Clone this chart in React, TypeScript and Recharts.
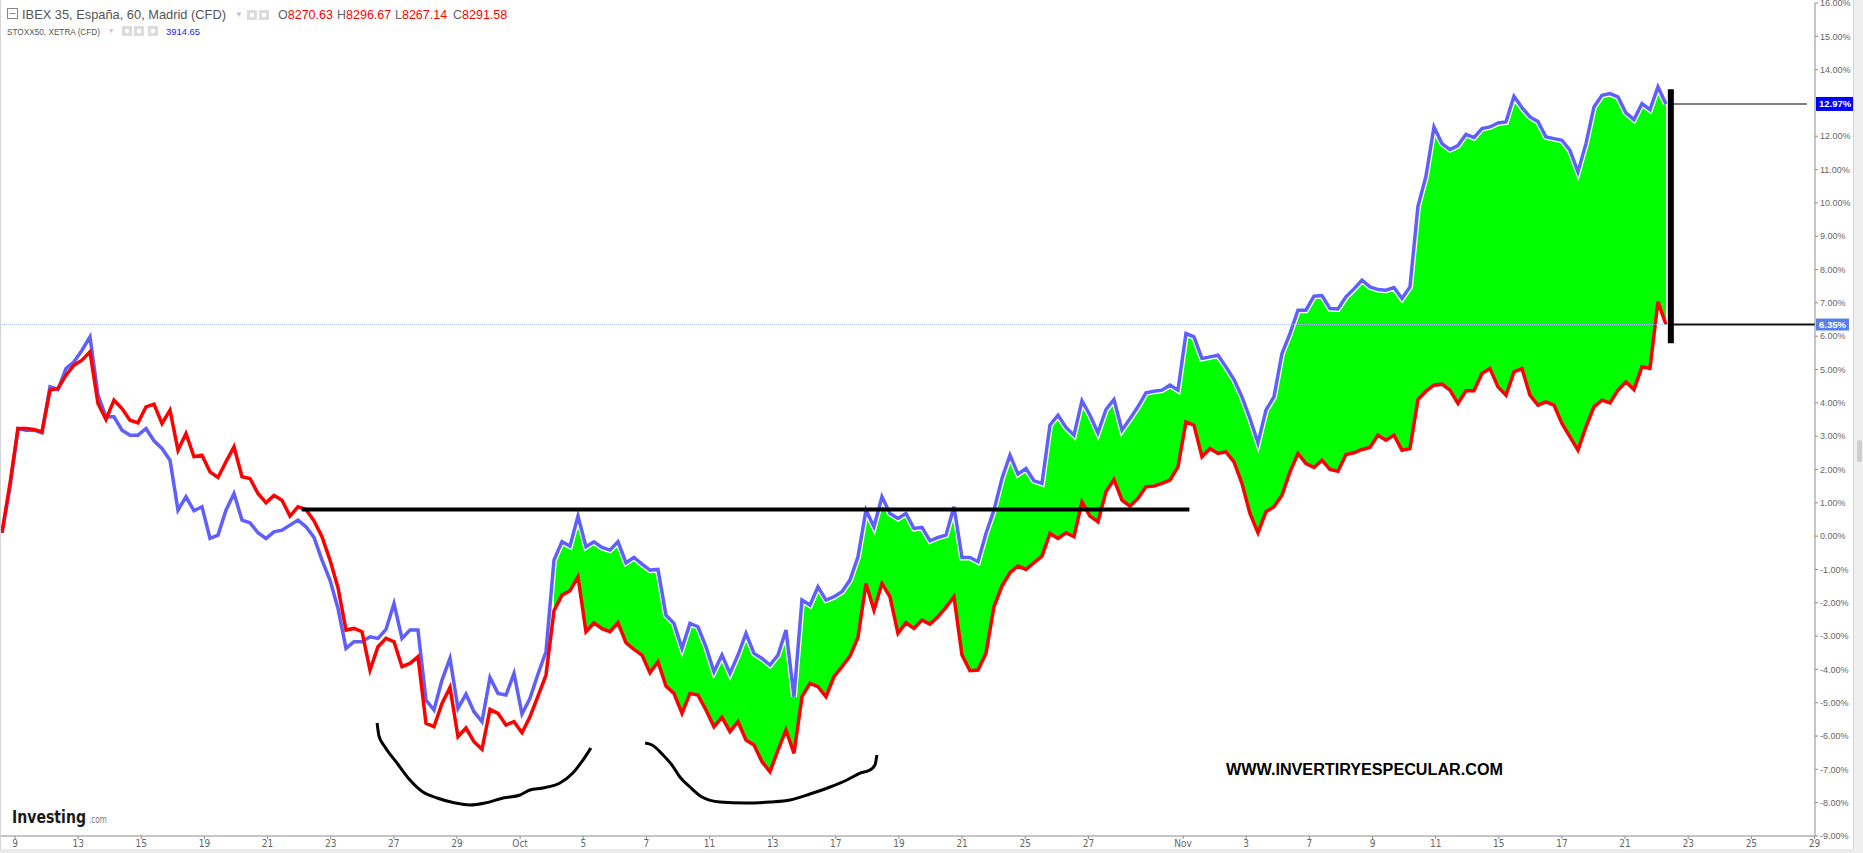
import React from 'react';
import { ComposedChart, Line, Area, XAxis, YAxis, ReferenceLine } from 'recharts';

// hourly series, % change since start, read every 2nd bar (Sep 8 pm -> Nov 22 midday)
const START_DAY = -0.412; // trading-day index of first sample (0 = Sep 9)
const STEP_DAY = 0.2534;

// IBEX 35 (red)
const ibexPct = [
  0.1, 1.58, 3.23, 3.23, 3.2, 3.13, 4.38, 4.43, 4.83, 5.13,
  5.28, 5.53, 3.98, 3.5, 4.08, 3.83, 3.48, 3.4, 3.88, 3.96,
  3.38, 3.78, 2.58, 3.08, 2.38, 2.43, 1.93, 1.76, 2.23, 2.68,
  1.78, 1.73, 1.28, 1.0, 1.22, 1.08, 0.6, 0.88, 0.8, 0.46,
  -0.02, -0.72, -1.55, -2.82, -2.77, -2.87, -4.02, -3.32, -3.07, -3.17,
  -3.92, -3.82, -3.62, -5.62, -5.72, -5.02, -4.54, -6.02, -5.76, -6.17,
  -6.4, -5.2, -5.32, -5.67, -5.57, -5.9, -5.42, -4.8, -4.17, -2.24,
  -1.77, -1.64, -1.22, -2.87, -2.6, -2.78, -2.87, -2.6, -3.2, -3.4,
  -3.57, -4.1, -3.77, -4.5, -4.72, -5.32, -4.72, -4.77, -5.22, -5.72,
  -5.44, -5.87, -5.57, -6.12, -6.27, -6.77, -7.07, -6.42, -5.82, -6.52,
  -4.82, -4.42, -4.52, -4.82, -4.22, -3.92, -3.6, -3.04, -1.42, -2.22,
  -1.42, -1.82, -2.92, -2.6, -2.77, -2.52, -2.64, -2.42, -2.14, -1.82,
  -3.57, -4.04, -4.02, -3.52, -2.12, -1.5, -1.1, -0.9, -1.0, -0.8,
  -0.6, 0.08, -0.07, 0.1, -0.02, 1.03, 0.6, 0.43, 1.33, 1.7,
  1.08, 0.9, 1.13, 1.48, 1.5, 1.58, 1.68, 2.08, 3.43, 3.33,
  2.38, 2.63, 2.48, 2.53, 2.23, 1.58, 0.68, 0.1, 0.73, 0.88,
  1.23, 1.93, 2.48, 2.18, 2.06, 2.28, 2.0, 1.95, 2.45, 2.5,
  2.6, 2.66, 3.03, 2.88, 3.03, 2.58, 2.63, 4.1, 4.35, 4.53,
  4.56, 4.38, 3.98, 4.36, 4.36, 4.88, 5.03, 4.48, 4.23, 4.93,
  5.03, 4.23, 3.93, 4.03, 3.93, 3.38, 2.98, 2.58, 3.28, 3.88,
  4.08, 4.0, 4.38, 4.63, 4.4, 5.08, 5.03, 7.03, 6.35,
];

// STOXX50 (blue)
const stoxxPct = [
  0.1, 1.48, 3.23, 3.18, 3.18, 3.1, 4.48, 4.4, 5.03, 5.23,
  5.58, 5.98, 4.23, 3.58, 3.58, 3.18, 3.03, 3.03, 3.23, 2.86,
  2.63, 2.28, 0.78, 1.18, 0.76, 0.88, -0.07, 0.03, 0.78, 1.28,
  0.48, 0.4, 0.1, -0.07, 0.13, 0.18, 0.33, 0.48, 0.28, -0.04,
  -0.72, -1.32, -2.17, -3.37, -3.17, -3.17, -3.02, -3.07, -2.8, -2.02,
  -3.07, -2.82, -2.82, -4.92, -5.22, -4.32, -3.67, -5.17, -4.74, -5.27,
  -5.57, -4.24, -4.72, -4.77, -4.12, -5.34, -4.87, -4.14, -3.47, -0.72,
  -0.17, -0.3, 0.6, -0.32, -0.17, -0.34, -0.42, -0.17, -0.8, -0.64,
  -0.84, -1.02, -1.0, -2.37, -2.62, -3.37, -2.62, -2.72, -3.32, -4.07,
  -3.57, -4.12, -3.57, -2.92, -3.52, -3.67, -3.87, -3.57, -2.82, -4.82,
  -1.92, -2.07, -1.52, -1.92, -1.82, -1.67, -1.32, -0.62, 0.78, 0.28,
  1.18, 0.68, 0.53, 0.68, 0.23, 0.26, -0.14, -0.04, 0.03, 0.88,
  -0.64, -0.64, -0.77, 0.08, 0.78, 1.73, 2.43, 1.86, 2.03, 1.66,
  1.58, 3.33, 3.63, 3.26, 3.03, 4.06, 3.63, 3.1, 3.8, 4.1,
  3.18, 3.52, 3.88, 4.3, 4.35, 4.38, 4.53, 4.38, 6.08, 5.98,
  5.33, 5.38, 5.43, 5.08, 4.7, 4.18, 3.53, 2.8, 3.78, 4.18,
  5.48, 6.08, 6.78, 6.78, 7.2, 7.22, 6.83, 6.82, 7.18, 7.42,
  7.68, 7.48, 7.4, 7.38, 7.46, 7.13, 7.48, 9.9, 10.8, 12.28,
  11.78, 11.6, 11.72, 12.06, 11.96, 12.23, 12.28, 12.4, 12.43, 13.2,
  12.86, 12.58, 12.44, 11.98, 11.93, 11.88, 11.58, 10.93, 11.78, 12.88,
  13.23, 13.28, 13.18, 12.7, 12.5, 12.98, 12.8, 13.48, 12.97,
];

// green shading between the lines starts at this sample (Oct 4)
const SHADE_FROM = 69;

// x axis: trading-day index -> label
const dayTicks = [0, 2, 4, 6, 8, 10, 12, 14, 16, 18, 20, 22, 24, 26, 28, 30, 32, 34, 37, 39, 41, 43, 45, 47, 49, 51, 53, 55, 57];
const dayLabels = ['9', '13', '15', '19', '21', '23', '27', '29', 'Oct', '5', '7', '11', '13', '17', '19', '21', '25', '27', 'Nov', '3', '7', '9', '11', '15', '17', '21', '23', '25', '29'];
const pctTicks = [-9, -8, -7, -6, -5, -4, -3, -2, -1, 0, 1, 2, 3, 4, 5, 6, 7, 8, 9, 10, 11, 12, 14, 15, 16];

// drawings
const neckline = { pct: 0.8, fromDay: 9.08, toDay: 37.2 };
const lastIbex = 6.35;
const lastStoxx = 12.97;
const gapBar = { day: 52.45, low: 5.79, high: 13.41 };
const leftCup = [
  { day: 11.47, pct: -5.61 }, { day: 11.53, pct: -6.0 }, { day: 11.72, pct: -6.33 }, { day: 12.1, pct: -6.81 },
  { day: 12.51, pct: -7.32 }, { day: 12.92, pct: -7.68 }, { day: 13.37, pct: -7.86 }, { day: 13.94, pct: -8.01 },
  { day: 14.41, pct: -8.07 }, { day: 14.89, pct: -8.01 }, { day: 15.46, pct: -7.86 }, { day: 16.0, pct: -7.77 },
  { day: 16.31, pct: -7.62 }, { day: 16.72, pct: -7.56 }, { day: 17.26, pct: -7.41 }, { day: 17.67, pct: -7.11 },
  { day: 17.99, pct: -6.72 }, { day: 18.24, pct: -6.36 },
];
const rightCup = [
  { day: 19.96, pct: -6.21 }, { day: 20.18, pct: -6.27 }, { day: 20.53, pct: -6.57 }, { day: 20.81, pct: -6.87 },
  { day: 21.06, pct: -7.23 }, { day: 21.38, pct: -7.53 }, { day: 21.76, pct: -7.83 }, { day: 22.33, pct: -7.98 },
  { day: 23.12, pct: -8.01 }, { day: 23.92, pct: -7.98 }, { day: 24.55, pct: -7.92 }, { day: 25.18, pct: -7.74 },
  { day: 25.82, pct: -7.53 }, { day: 26.35, pct: -7.32 }, { day: 26.77, pct: -7.11 }, { day: 27.08, pct: -7.02 },
  { day: 27.24, pct: -6.87 }, { day: 27.3, pct: -6.57 },
];

const X_DOMAIN: [number, number] = [-0.4435, 57.016];

const rows = ibexPct.map((ibex, i) => {
  const stoxx = stoxxPct[i];
  return {
    day: START_DAY + i * STEP_DAY,
    ibex,
    stoxx,
    band: i >= SHADE_FROM ? [ibex, Math.max(ibex, stoxx)] : null,
  };
});

const AXIS_FONT = '"Liberation Sans", Arial, sans-serif';
const NARROW_FONT = '"Liberation Sans Narrow", "DejaVu Sans Condensed", "Liberation Sans", sans-serif';

const badge = (text: string, color: string, w: number, h: number) => (props: any) => {
  const vb = props.viewBox || {};
  const left = vb.x + vb.width + 1;
  return (
    <g>
      <rect x={left} y={vb.y - h / 2} width={w} height={h} fill={color} />
      <text x={left + 3} y={vb.y + 3.5} fill="#fff" fontSize={9.5} fontWeight="bold" fontFamily={AXIS_FONT}>
        {text}
      </text>
    </g>
  );
};

const IconBox = ({ x, y }: { x: number; y: number }) => (
  <g>
    <rect x={x} y={y} width={10} height={10} fill="#dcdcdc" />
    <circle cx={x + 5} cy={y + 5} r={2.2} fill="#fff" />
  </g>
);

export default function App() {
  return (
    <div style={{ position: 'absolute', left: 0, top: 0, width: 1863, height: 853, background: '#fff', overflow: 'hidden' }}>
      <ComposedChart width={1863} height={853} data={rows} margin={{ top: 3, right: 10, left: 1, bottom: 4 }}>
        <XAxis
          dataKey="day"
          type="number"
          domain={X_DOMAIN}
          allowDataOverflow
          ticks={dayTicks}
          interval={0}
          tickFormatter={(v: number) => dayLabels[dayTicks.indexOf(v)] ?? ''}
          height={13}
          tickSize={3}
          tickMargin={1}
          stroke="#8c8c8c"
          tick={{ fontSize: 10, fill: '#666', fontFamily: NARROW_FONT }}
        />
        <YAxis
          orientation="right"
          type="number"
          domain={[-9, 16]}
          allowDataOverflow
          ticks={pctTicks}
          interval={0}
          tickFormatter={(v: number) => `${v.toFixed(2)}%`}
          width={38}
          tickSize={3}
          tickMargin={2}
          stroke="#8c8c8c"
          tick={{ fontSize: 9, fill: '#666', fontFamily: AXIS_FONT }}
        />
        <Area
          dataKey="band"
          type="linear"
          fill="#00ff00"
          fillOpacity={1}
          stroke="none"
          isAnimationActive={false}
          activeDot={false}
        />
        <Line dataKey="stoxx" type="linear" stroke="#ffffff" strokeWidth={6} dot={false} activeDot={false} isAnimationActive={false} />
        <Line dataKey="stoxx" type="linear" stroke="#5f5ffb" strokeWidth={3.5} dot={false} activeDot={false} isAnimationActive={false} />
        <Line dataKey="ibex" type="linear" stroke="#ff0000" strokeWidth={3.5} dot={false} activeDot={false} isAnimationActive={false} />
        <Line data={leftCup} dataKey="pct" type="monotone" stroke="#000" strokeWidth={3} dot={false} activeDot={false} isAnimationActive={false} />
        <Line data={rightCup} dataKey="pct" type="monotone" stroke="#000" strokeWidth={3} dot={false} activeDot={false} isAnimationActive={false} />

        <ReferenceLine y={lastIbex} stroke="#a9bff5" strokeDasharray="1 1" strokeWidth={1} />
        <ReferenceLine
          segment={[{ x: neckline.fromDay, y: neckline.pct }, { x: neckline.toDay, y: neckline.pct }]}
          stroke="#000"
          strokeWidth={4}
        />
        <ReferenceLine segment={[{ x: 52.52, y: lastStoxx }, { x: 56.76, y: lastStoxx }]} stroke="#808080" strokeWidth={2} />
        <ReferenceLine segment={[{ x: 52.52, y: lastIbex }, { x: X_DOMAIN[1], y: lastIbex }]} stroke="#111" strokeWidth={2} />
        <ReferenceLine segment={[{ x: gapBar.day, y: gapBar.low }, { x: gapBar.day, y: gapBar.high }]} stroke="#000" strokeWidth={6} />
        <ReferenceLine y={lastStoxx} stroke="none" label={badge('12.97%', '#0000ff', 37, 14)} />
        <ReferenceLine y={lastIbex} stroke="none" label={badge('6.35%', '#5a7fe6', 33, 12)} />
      </ComposedChart>

      <svg width={1863} height={853} style={{ position: 'absolute', left: 0, top: 0, pointerEvents: 'none' }}>
        {/* frame */}
        <line x1={0.5} y1={0} x2={0.5} y2={849} stroke="#d4d4d4" />
        <rect x={0} y={849} width={1863} height={4} fill="#ebebeb" />
        <rect x={1854} y={0} width={9} height={853} fill="#efefef" />
        <line x1={1853.5} y1={0} x2={1853.5} y2={849} stroke="#d4d4d4" />
        <rect x={1857} y={440} width={5} height={22} rx={2} fill="#cfcfcf" />

        {/* legend */}
        <rect x={7.5} y={8.5} width={10} height={10} fill="none" stroke="#888" />
        <line x1={9.5} y1={13.5} x2={15.5} y2={13.5} stroke="#888" />
        <text x={22} y={19} fontSize={13.5} fill="#555" fontFamily={AXIS_FONT} textLength={204} lengthAdjust="spacingAndGlyphs">
          IBEX 35, España, 60, Madrid (CFD)
        </text>
        <text x={235} y={17} fontSize={8} fill="#c4c4c4" fontFamily={AXIS_FONT}>▼</text>
        <IconBox x={247} y={10} />
        <IconBox x={259} y={10} />
        <text y={19} fontSize={12.5} fontFamily={AXIS_FONT}>
          <tspan x={278} fill="#666">O</tspan>
          <tspan fill="#ff0000">8270.63</tspan>
          <tspan x={337} fill="#666">H</tspan>
          <tspan fill="#ff0000">8296.67</tspan>
          <tspan x={395} fill="#666">L</tspan>
          <tspan fill="#ff0000">8267.14</tspan>
          <tspan x={453} fill="#666">C</tspan>
          <tspan fill="#ff0000">8291.58</tspan>
        </text>
        <text x={7} y={34.5} fontSize={9.2} fill="#555" fontFamily={AXIS_FONT} textLength={93} lengthAdjust="spacingAndGlyphs">
          STOXX50, XETRA (CFD)
        </text>
        <text x={108} y={33} fontSize={6.5} fill="#c4c4c4" fontFamily={AXIS_FONT}>▼</text>
        <IconBox x={122} y={26} />
        <IconBox x={134} y={26} />
        <IconBox x={148} y={26} />
        <text x={166} y={34.5} fontSize={9.5} fill="#1a1aff" fontFamily={AXIS_FONT} textLength={34} lengthAdjust="spacingAndGlyphs">
          3914.65
        </text>

        {/* logo + watermark */}
        <text x={12} y={823} fontSize={17} fontWeight="bold" fill="#1a1a1a" fontFamily={NARROW_FONT} textLength={74} lengthAdjust="spacingAndGlyphs">
          Investing
        </text>
        <text x={89} y={823} fontSize={10} fill="#777" fontFamily={NARROW_FONT} textLength={18} lengthAdjust="spacingAndGlyphs">
          .com
        </text>
        <text x={1226} y={775} fontSize={16} fontWeight="bold" fill="#000" fontFamily={AXIS_FONT} textLength={277} lengthAdjust="spacingAndGlyphs">
          WWW.INVERTIRYESPECULAR.COM
        </text>
      </svg>
    </div>
  );
}
